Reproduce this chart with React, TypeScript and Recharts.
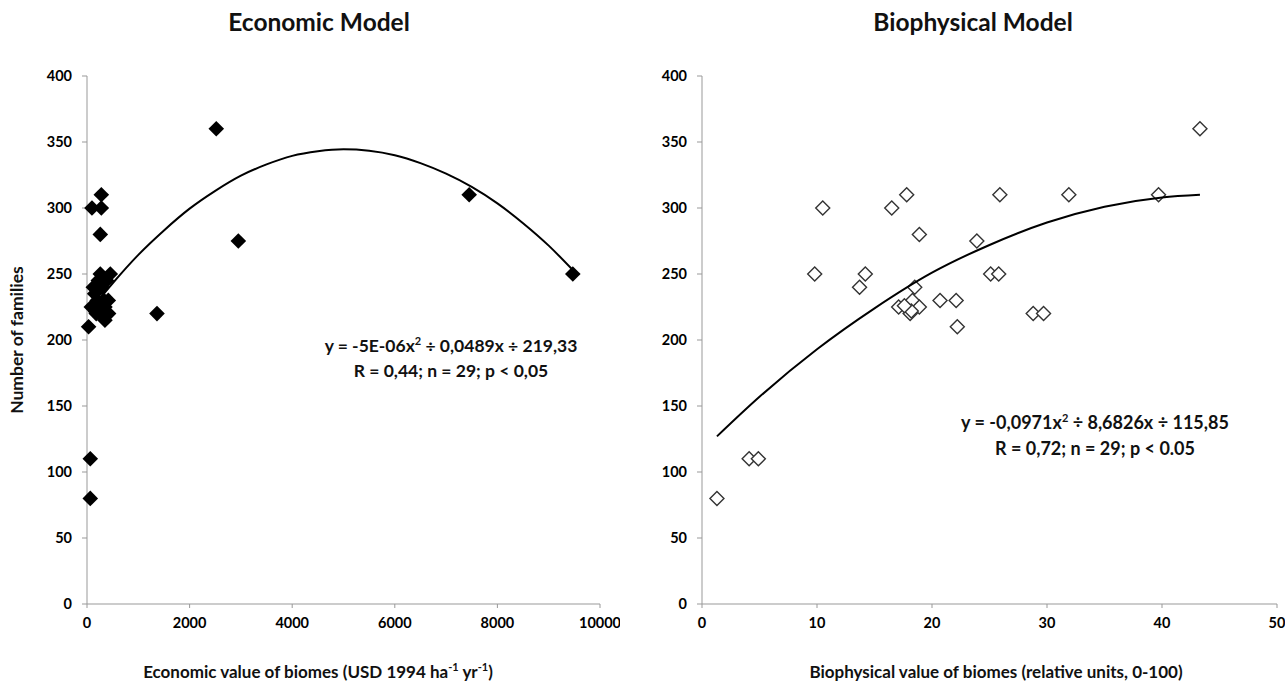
import { ScatterChart, Scatter, XAxis, YAxis, Label } from 'recharts'

// ─── Data ─────────────────────────────────────────────────────────────────────

const familyTicks = [0, 50, 100, 150, 200, 250, 300, 350, 400]
const econTicks = [0, 2000, 4000, 6000, 8000, 10000]
const bioTicks = [0, 10, 20, 30, 40, 50]

// Economic model: value of biomes (USD 1994 / ha / yr) vs number of families
const econValue = [279, 97, 279, 259, 259, 454, 123, 292, 415, 84, 259, 421, 259, 31, 1364, 2520, 2950, 7450, 9470, 64, 64, 200, 350, 180, 330, 150, 380, 220, 350]
const econFamilies = [310, 300, 300, 280, 250, 250, 240, 240, 230, 225, 225, 220, 220, 210, 220, 360, 275, 310, 250, 110, 80, 230, 225, 220, 230, 235, 245, 245, 215]

// Biophysical model: relative units vs number of families
const bioValue = [10.5, 9.8, 14.2, 13.7, 16.5, 17.8, 18.9, 18.5, 18.3, 17.1, 18.9, 18.1, 20.7, 1.3, 4.1, 4.9, 43.3, 25.9, 31.9, 39.7, 23.9, 25.1, 25.8, 22.1, 22.2, 28.8, 29.7, 18.2, 17.6]
const bioFamilies = [300, 250, 250, 240, 300, 310, 280, 240, 230, 225, 225, 220, 230, 80, 110, 110, 360, 310, 310, 310, 275, 250, 250, 230, 210, 220, 220, 222, 226]

// Trend lines
const econTrendX = [30, 500, 1000, 1500, 2000, 2500, 3000, 3500, 4000, 4500, 5000, 5500, 6000, 6500, 7000, 7500, 8000, 8500, 9000, 9470]
const econTrendY = [221, 243, 264.5, 283, 299.5, 313, 324.5, 333, 339.5, 343, 344.5, 343.4, 340, 334, 326, 316, 303.5, 288.5, 271.5, 253]
const bioTrendX = [1.3, 5, 10, 15, 20, 25, 30, 35, 40, 43.3]
const bioTrendY = [127, 157, 193, 224, 251, 272, 289, 301, 308, 310]

const econPoints = econValue.map((x, i) => ({ x, y: econFamilies[i] }))
const bioPoints = bioValue.map((x, i) => ({ x, y: bioFamilies[i] }))
const econTrend = econTrendX.map((x, i) => ({ x, y: econTrendY[i] }))
const bioTrend = bioTrendX.map((x, i) => ({ x, y: bioTrendY[i] }))

// ─── Shapes ───────────────────────────────────────────────────────────────────

function diamondPath(cx: number, cy: number, r: number) {
  return `M${cx},${cy - r}L${cx + r},${cy}L${cx},${cy + r}L${cx - r},${cy}Z`
}

function FilledDiamond(props: any) {
  return <path d={diamondPath(props.cx, props.cy, 7.8)} fill="#000" />
}

function OpenDiamond(props: any) {
  return <path d={diamondPath(props.cx, props.cy, 7)} fill="#fff" stroke="#333" strokeWidth={1.4} />
}

const NoDot = () => <g />

const tickStyle = { fontSize: 14.5, fontWeight: 700, fill: '#000' }
const axisStroke = { stroke: '#999' }

const textBase: React.CSSProperties = {
  position: 'absolute',
  transform: 'translate(-50%, -50%)',
  whiteSpace: 'nowrap',
  fontWeight: 700,
  color: '#111',
  textAlign: 'center',
}

const sup: React.CSSProperties = { fontSize: 11, verticalAlign: 'super', lineHeight: 0 }

// ─── Component ────────────────────────────────────────────────────────────────

export default function App() {
  return (
    <div style={{ position: 'absolute', left: 0, top: 0, width: 1285, height: 691, background: '#fff', fontFamily: 'Lato, sans-serif' }}>
      {/* Economic model */}
      <div style={{ position: 'absolute', left: 0, top: 0 }}>
        <ScatterChart width={620} height={650} margin={{ top: 76, right: 20, left: 0, bottom: 16 }}>
          <XAxis
            type="number" dataKey="x" domain={[0, 10000]} ticks={econTicks}
            tick={tickStyle} axisLine={axisStroke} tickLine={axisStroke}
            tickSize={4} tickMargin={10} height={30} interval={0}
          />
          <YAxis
            type="number" dataKey="y" domain={[0, 400]} ticks={familyTicks}
            tick={tickStyle} axisLine={axisStroke} tickLine={axisStroke}
            tickSize={5} tickMargin={10} width={87} interval={0}
          >
            <Label value="Number of families" angle={-90} position="insideLeft" offset={17}
              style={{ fontSize: 17.5, fontWeight: 700, fill: '#111', textAnchor: 'middle' }} />
          </YAxis>
          <Scatter data={econPoints} shape={FilledDiamond} isAnimationActive={false} />
          <Scatter data={econTrend} shape={NoDot} line={{ stroke: '#000', strokeWidth: 2 }}
            lineJointType="monotoneX" isAnimationActive={false} />
        </ScatterChart>
      </div>

      {/* Biophysical model */}
      <div style={{ position: 'absolute', left: 640, top: 0 }}>
        <ScatterChart width={645} height={650} margin={{ top: 76, right: 8, left: 0, bottom: 16 }}>
          <XAxis
            type="number" dataKey="x" domain={[0, 50]} ticks={bioTicks}
            tick={tickStyle} axisLine={axisStroke} tickLine={axisStroke}
            tickSize={4} tickMargin={10} height={30} interval={0}
          />
          <YAxis
            type="number" dataKey="y" domain={[0, 400]} ticks={familyTicks}
            tick={tickStyle} axisLine={axisStroke} tickLine={axisStroke}
            tickSize={5} tickMargin={10} width={62} interval={0}
          />
          <Scatter data={bioPoints} shape={OpenDiamond} isAnimationActive={false} />
          <Scatter data={bioTrend} shape={NoDot} line={{ stroke: '#000', strokeWidth: 2 }}
            lineJointType="monotoneX" isAnimationActive={false} />
        </ScatterChart>
      </div>

      {/* Titles */}
      <div style={{ ...textBase, left: 319, top: 21, fontSize: 24.5 }}>Economic Model</div>
      <div style={{ ...textBase, left: 973, top: 21, fontSize: 24.5 }}>Biophysical Model</div>

      {/* Axis titles */}
      <div style={{ ...textBase, left: 318, top: 671, fontSize: 17 }}>
        Economic value of biomes (USD 1994 ha<span style={sup}>-1</span> yr<span style={sup}>-1</span>)
      </div>
      <div style={{ ...textBase, left: 996, top: 671, fontSize: 17 }}>
        Biophysical value of biomes (relative units, 0-100)
      </div>

      {/* Regression annotations */}
      <div style={{ ...textBase, left: 451, top: 358, fontSize: 17.5, lineHeight: '25px' }}>
        y = -5E-06x<span style={sup}>2</span> ÷ 0,0489x ÷ 219,33<br />
        R = 0,44; n = 29; p &lt; 0,05
      </div>
      <div style={{ ...textBase, left: 1095, top: 435, fontSize: 18, lineHeight: '26px' }}>
        y = -0,0971x<span style={sup}>2</span> ÷ 8,6826x ÷ 115,85<br />
        R = 0,72; n = 29; p &lt; 0.05
      </div>
    </div>
  )
}
